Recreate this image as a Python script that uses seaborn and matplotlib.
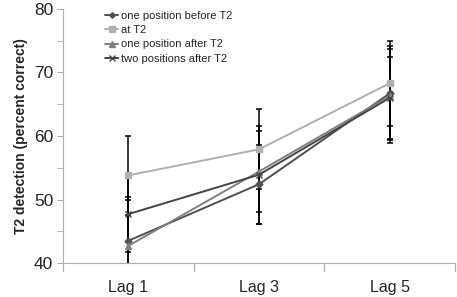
import seaborn as sns
import matplotlib.pyplot as plt
import pandas as pd

# data
lags = ["Lag 1", "Lag 3", "Lag 5"]
series = ["one position before T2", "at T2", "one position after T2", "two positions after T2"]
before_t2 = [43.5, 52.4, 66.7]
at_t2 = [53.8, 57.9, 68.3]
after1_t2 = [42.7, 54.4, 66.3]
after2_t2 = [47.7, 53.9, 66.0]
before_err = [6.4, 6.2, 7.4]
at_err = [6.2, 6.3, 6.7]
after1_err = [7.7, 6.4, 7.4]
after2_err = [5.9, 7.7, 6.4]

values = [before_t2, at_t2, after1_t2, after2_t2]
errors = [before_err, at_err, after1_err, after2_err]
colors = ["#505050", "#b0b0b0", "#808080", "#454545"]
markers = ["D", "s", "^", "x"]
sizes = [3.5, 5, 5, 5]

df = pd.DataFrame({
    "lag": lags * len(series),
    "pos": list(range(len(lags))) * len(series),
    "cond": [s for s in series for _ in lags],
    "val": [v for vals in values for v in vals],
})

sns.set_style("white")
plt.rcParams["font.family"] = ["Liberation Sans", "DejaVu Sans"]

fig = plt.figure(figsize=(4.57, 2.97), dpi=100)
ax = fig.add_axes([63 / 457, 1 - 263 / 297, (455 - 63) / 457, (263 - 9) / 297])

# error bars first (black), then the lines on top
for vals, errs in zip(values, errors):
    ax.errorbar(range(len(lags)), vals, yerr=errs, fmt="none", ecolor="black",
                elinewidth=1.1, capsize=2.5, capthick=1.1, zorder=2)

for s, c, m, ms in zip(series, colors, markers, sizes):
    d = df[df["cond"] == s]
    sns.lineplot(data=d, x="pos", y="val", ax=ax, color=c, marker=m,
                 markersize=ms, markeredgecolor=c, markeredgewidth=1.0,
                 linewidth=1.4, label=s, zorder=3)

ax.set_xlim(-0.5, 2.5)
ax.set_ylim(40, 80)
ax.set_xticks([0, 1, 2])
ax.set_xticklabels(lags, fontsize=11.5)
ax.set_yticks([40, 50, 60, 70, 80])
ax.set_yticks([45, 55, 65, 75], minor=True)
ax.tick_params(axis="y", which="both", direction="out", length=4, color="#b0b0b0",
               left=True, labelsize=12.5, pad=3)
ax.tick_params(axis="x", length=0, pad=12)
# Excel-style category separators
for xb in [-0.5, 0.5, 1.5, 2.5]:
    ax.plot([xb, xb], [40, 38.8], color="#b0b0b0", lw=0.9, clip_on=False)
ax.set_xlabel("")
ax.set_ylabel("T2 detection (percent correct)", fontsize=10, fontweight="bold", labelpad=4)

for side in ["top", "right"]:
    ax.spines[side].set_visible(False)
ax.spines["left"].set_color("#b0b0b0")
ax.spines["bottom"].set_color("#b0b0b0")

leg = ax.legend(loc="upper left", bbox_to_anchor=(0.09, 1.02), frameon=False,
                fontsize=8, handlelength=1.2, handletextpad=0.2,
                labelspacing=0.4, borderaxespad=0.2, markerscale=0.8)

fig.savefig("out.png", dpi=100)
